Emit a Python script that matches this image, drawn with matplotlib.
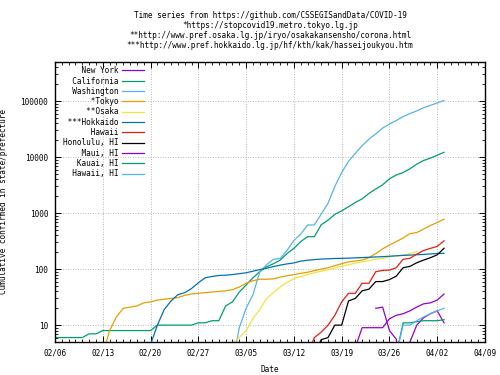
import pandas as pd
import matplotlib
matplotlib.use("Agg")
import matplotlib.pyplot as plt
import matplotlib.dates as mdates
from matplotlib.ticker import FixedLocator, LogLocator, NullFormatter

plt.rcParams["font.family"] = ["DejaVu Sans Mono"]
FS = 5.6

title_lines = [
    "Time series from https://github.com/CSSEGISandData/COVID-19",
    "*https://stopcovid19.metro.tokyo.lg.jp",
    "**http://www.pref.osaka.lg.jp/iryo/osakakansensho/corona.html",
    "***http://www.pref.hokkaido.lg.jp/hf/kth/kak/hasseijoukyou.htm",
]

# daily cumulative counts, each list starts at its own date
new_york_start = "2020-03-21"
new_york = [4, 9, 9, 9, 9, 13, 15, 16, 18, 21, 24, 25, 28, 36]

california_start = "2020-02-06"
california = [6, 6, 6, 6, 6, 7, 7, 8, 8, 8, 8, 8, 8, 8, 8, 10, 10, 10, 10, 10, 10,
              11, 11, 12, 12, 22, 26, 39, 52, 70, 90, 110, 125, 145, 190, 235, 310,
              380, 380, 620, 750, 950, 1100, 1300, 1550, 1800, 2250, 2700, 3200,
              4100, 4800, 5300, 6200, 7500, 8700, 9600, 10800, 12200]

washington_start = "2020-03-03"
washington = [2, 9, 20, 35, 89, 120, 150, 155, 217, 326, 421, 613, 615, 960, 1500,
              3000, 5300, 8400, 11700, 16000, 21000, 26000, 33000, 39000, 45000,
              53000, 60000, 67000, 76000, 84000, 92500, 103000]

tokyo_start = "2020-02-13"
tokyo = [3, 8, 14, 20, 21, 22, 25, 26, 28, 29, 30, 31, 34, 36, 37, 38, 39, 40, 41,
         43, 48, 56, 62, 66, 66, 67, 72, 76, 80, 84, 88, 94, 100, 106, 115, 125,
         135, 140, 145, 160, 190, 230, 270, 310, 360, 430, 450, 520, 600, 680, 780]

osaka_start = "2020-03-03"
osaka = [4.8, 6, 8, 13, 19, 30, 38, 48, 58, 68, 74, 80, 86, 92, 97, 105, 113, 120,
         128, 135, 142, 150, 155, 165, 172, 178, 190, 205]

hokkaido_start = "2020-02-20"
hokkaido = [4.5, 10, 19, 27, 35, 38, 45, 57, 70, 74, 77, 78, 80, 83, 86, 92, 98, 104,
            111, 118, 124, 129, 139, 144, 148, 151, 153, 155, 156, 157, 159, 161,
            163, 165, 167, 170, 173, 176, 178, 181, 183, 187, 190, 192]

hawaii_start = "2020-03-14"
hawaii = [3, 6, 7.5, 10, 15, 26, 37, 37, 56, 56, 90, 95, 96, 106, 150, 156, 185,
          215, 235, 255, 320]

honolulu_start = "2020-03-15"
honolulu = [3, 5.5, 6, 10, 10, 27, 30, 41, 44, 60, 60, 65, 75, 106, 112, 130, 145,
            160, 180, 236]

maui_start = "2020-03-24"
maui = [20, 21, 8, 5.6, 1, 5, 10, 13.5, 16, 18, 11]

kauai_start = "2020-03-27"
kauai = [3, 11, 11, 11.5, 12, 12, 12, 12.5]

hawaii_county_start = "2020-03-27"
hawaii_county = [3, 10, 10, 12, 14, 16, 18, 20]

labels = ["New York", "California", "Washington", "*Tokyo", "**Osaka", "***Hokkaido",
          "Hawaii", "Honolulu, HI", "Maui, HI", "Kauai, HI", "Hawaii, HI"]
series = [(new_york_start, new_york), (california_start, california),
          (washington_start, washington), (tokyo_start, tokyo), (osaka_start, osaka),
          (hokkaido_start, hokkaido), (hawaii_start, hawaii),
          (honolulu_start, honolulu), (maui_start, maui), (kauai_start, kauai),
          (hawaii_county_start, hawaii_county)]
colors = ["#9400d3", "#009e73", "#56b4e9", "#e69f00", "#f0e442", "#0072b2",
          "#e51e10", "#000000", "#9400d3", "#009e73", "#56b4e9"]

fig = plt.figure(figsize=(5, 3.75), dpi=100)
ax = fig.add_axes([0.11, 0.088, 0.86, 0.7467])

# monospace font, so padding with spaces right-aligns the legend texts
width = max(len(l) for l in labels)
for (start, vals), lab, col in zip(series, labels, colors):
    dates = pd.date_range(start, periods=len(vals), freq="D")
    ax.plot(dates, vals, color=col, lw=0.9, label=lab.rjust(width))

ax.set_yscale("log")
ax.set_ylim(5, 500000)
ax.set_xlim(pd.Timestamp("2020-02-06"), pd.Timestamp("2020-04-09"))

ax.yaxis.set_major_locator(FixedLocator([10, 100, 1000, 10000, 100000]))
ax.set_yticklabels(["10", "100", "1000", "10000", "100000"])
ax.yaxis.set_minor_locator(LogLocator(base=10, subs=range(2, 10)))
ax.yaxis.set_minor_formatter(NullFormatter())

weeks = pd.date_range("2020-02-06", "2020-04-09", freq="7D")
ax.xaxis.set_major_locator(FixedLocator(mdates.date2num(weeks)))
ax.xaxis.set_major_formatter(mdates.DateFormatter("%m/%d"))
ax.xaxis.set_minor_locator(mdates.DayLocator())

ax.tick_params(which="both", direction="in", top=True, right=True, labelsize=FS)
ax.tick_params(which="major", length=4.5, width=0.7)
ax.tick_params(which="minor", length=2.5, width=0.6)
ax.tick_params(axis="x", pad=5)
ax.tick_params(axis="y", pad=5)
for s in ax.spines.values():
    s.set_linewidth(1.0)

ax.grid(True, which="major", color="#a0a0a0", lw=0.6, linestyle=(0, (1, 2)))

ax.set_xlabel("Date", fontsize=FS, labelpad=5)
ax.set_ylabel("Cumulative confirmed in state/prefecture", fontsize=FS, labelpad=9)

for i, line in enumerate(title_lines):
    fig.text(0.54, 1 - (15.7 + 10 * i) / 375, line, ha="center", va="center", fontsize=FS)

ax.legend(loc="upper left", bbox_to_anchor=(0.018, 0.985), frameon=False,
          markerfirst=False, fontsize=FS, handlelength=2.8, handletextpad=0.5,
          labelspacing=0.17, borderpad=0, borderaxespad=0)

fig.savefig("out.png", dpi=100)
